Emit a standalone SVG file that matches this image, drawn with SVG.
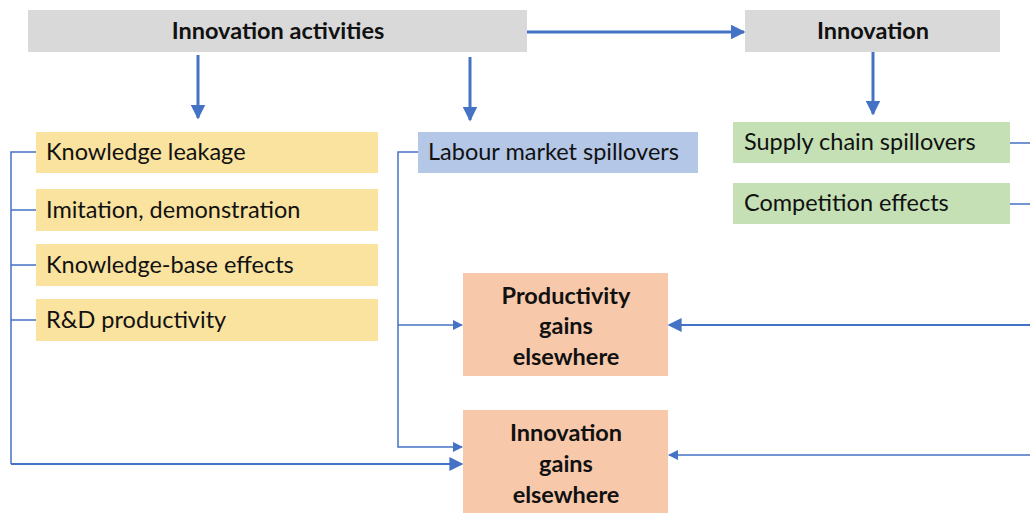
<svg xmlns="http://www.w3.org/2000/svg" width="1030" height="513" viewBox="0 0 1030 513">
<defs>
<style>
.t{font-family:Lato,"Open Sans","Liberation Sans",sans-serif;font-size:23.5px;fill:#111}
.b{font-weight:bold}
.gray{fill:#d9d9d9}.yel{fill:#fae29f}.blu{fill:#b4c7e7}.grn{fill:#c5e0b4}.org{fill:#f7c9aa}
.thick{stroke:#4472c4;stroke-width:3;fill:none}
.thin{stroke:#4472c4;stroke-width:1.5;fill:none}
.mid{stroke:#4472c4;stroke-width:2;fill:none}
</style>
<marker id="ab" viewBox="0 0 10 10" refX="9" refY="5" markerWidth="5" markerHeight="5" markerUnits="strokeWidth" orient="auto"><path d="M0,0 L10,5 L0,10 z" fill="#4472c4"/></marker>
<marker id="as" viewBox="0 0 10 10" refX="9" refY="5" markerWidth="7" markerHeight="7" markerUnits="strokeWidth" orient="auto"><path d="M0,0 L10,5 L0,10 z" fill="#4472c4"/></marker>
</defs>
<g id="innovation-activities"><rect class="gray" x="28" y="10" width="499" height="42"/><text class="t b" x="278" y="39" text-anchor="middle">Innovation activities</text></g>
<g id="innovation"><rect class="gray" x="745" y="10" width="255" height="42"/><text class="t b" x="873" y="39" text-anchor="middle">Innovation</text></g>
<g id="knowledge-leakage"><rect class="yel" x="36" y="132" width="342" height="41"/><text class="t" x="46" y="160">Knowledge leakage</text></g>
<g id="imitation"><rect class="yel" x="36" y="189" width="342" height="42"/><text class="t" x="46" y="218">Imitation, demonstration</text></g>
<g id="knowledge-base"><rect class="yel" x="36" y="244" width="342" height="42"/><text class="t" x="46" y="273">Knowledge-base effects</text></g>
<g id="rd-productivity"><rect class="yel" x="36" y="299" width="342" height="42"/><text class="t" x="46" y="328">R&amp;D productivity</text></g>
<g id="labour-market"><rect class="blu" x="418" y="132" width="280" height="41"/><text class="t" x="428" y="160">Labour market spillovers</text></g>
<g id="supply-chain"><rect class="grn" x="733" y="122" width="277" height="41"/><text class="t" x="744" y="150">Supply chain spillovers</text></g>
<g id="competition"><rect class="grn" x="733" y="183" width="277" height="41"/><text class="t" x="744" y="211">Competition effects</text></g>
<g id="productivity-gains"><rect class="org" x="463" y="273" width="205" height="103"/><text class="t b" x="566" y="304" text-anchor="middle">Productivity</text><text class="t b" x="566" y="334" text-anchor="middle">gains</text><text class="t b" x="566" y="365" text-anchor="middle">elsewhere</text></g>
<g id="innovation-gains"><rect class="org" x="463" y="410" width="205" height="110"/><text class="t b" x="566" y="441" text-anchor="middle">Innovation</text><text class="t b" x="566" y="472" text-anchor="middle">gains</text><text class="t b" x="566" y="503" text-anchor="middle">elsewhere</text></g>
<g id="connectors">
<path class="thick" d="M527,32 H744" marker-end="url(#ab)"/>
<path class="thick" d="M198,55 V118" marker-end="url(#ab)"/>
<path class="thick" d="M470,57 V120" marker-end="url(#ab)"/>
<path class="thick" d="M873,52 V114" marker-end="url(#ab)"/>
<path class="thin" d="M36,152 H11 V464"/>
<path class="thin" d="M11,210 H36 M11,265 H36 M11,320 H36"/>
<path class="mid" d="M11,464 H462" marker-end="url(#as)"/>
<path class="thin" d="M418,152 H398 V447 H462" marker-end="url(#as)"/>
<path class="thin" d="M398,325 H462" marker-end="url(#as)"/>
<path class="thin" d="M1010,143 H1030 M1010,204 H1030"/>
<path class="mid" d="M1030,325 H669" marker-end="url(#as)"/>
<path class="thin" d="M1030,455 H669" marker-end="url(#as)"/>
</g>
</svg>
